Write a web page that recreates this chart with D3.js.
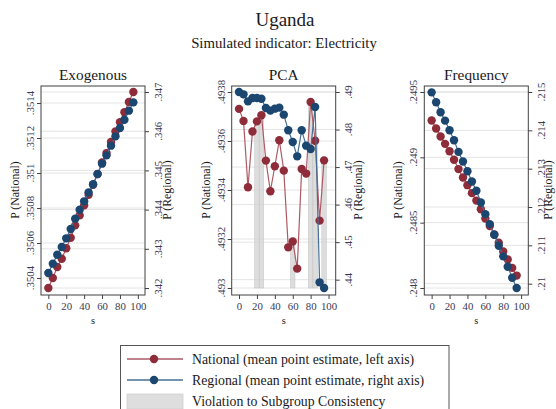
<!DOCTYPE html>
<html>
<head>
<meta charset="utf-8">
<script src="https://cdn.jsdelivr.net/npm/d3@7"></script>
<style>
  html, body { margin: 0; padding: 0; background: #fff; }
  svg { display: block; font-family: "Liberation Serif", "DejaVu Serif", serif; }
</style>
</head>
<body>
<svg id="chart" width="556" height="409"></svg>
<script>
// Simulation grid (share of sample, s)
const sValues = [0, 5, 10, 15, 20, 25, 30, 35, 40, 45, 50, 55, 60, 65, 70, 75, 80, 85, 90, 95];
const xTicks = [0, 20, 40, 60, 80, 100];

const panelTitles = ["Exogenous", "PCA", "Frequency"];

// Mean point estimates, national (left axis) and regional (right axis)
const nationalExogenous = [.350343, .350400, .350463, .350510, .350570, .350630, .350701, .350758, .350815, .350876,
                           .350933, .350994, .351061, .351114, .351177, .351238, .351291, .351347, .351406, .351463];
const regionalExogenous = [.342383, .342621, .342850, .343046, .343267, .343505, .343769, .343998, .344211, .344440,
                           .344645, .344908, .345172, .345384, .345631, .345869, .346082, .346294, .346524, .346736];

const nationalPCA = [.493731, .493682, .493411, .493639, .493680, .493705, .493520, .493395, .493497, .493603,
                     .493479, .493166, .493190, .493079, .493486, .493467, .493759, .493601, .493275, .493521];
const regionalPCA = [.49000, .48938, .48751, .48840, .48840, .48822, .48574, .48503, .48556, .48583,
                     .48396, .47979, .47668, .47286, .47979, .47570, .47481, .48600, .43929, .43778];

const nationalFrequency = [.249282, .249221, .249159, .249103, .249046, .248982, .248910, .248846, .248787, .248726,
                           .248669, .248603, .248531, .248474, .248410, .248346, .248279, .248218, .248154, .248095];
const regionalFrequency = [.214991, .214731, .214470, .214253, .214002, .213741, .213438, .213186, .212934, .212665,
                           .212422, .212118, .211814, .211554, .211276, .210990, .210712, .210443, .210156, .209887];

// Axis ticks
const leftTicksExogenous = [.3504, .3506, .3508, .351, .3512, .3514];
const rightTicksExogenous = [.342, .343, .344, .345, .346, .347];
const leftTicksPCA = [.493, .4932, .4934, .4936, .4938];
const rightTicksPCA = [.44, .45, .46, .47, .48, .49];
const leftTicksFrequency = [.248, .2485, .249, .2495];
const rightTicksFrequency = [.21, .211, .212, .213, .214, .215];

// Values of s at which subgroup consistency is violated (PCA only)
const violationsExogenous = [];
const violationsPCA = [20, 25, 60, 80, 85, 95];
const violationsFrequency = [];

const panels = [
  { title: panelTitles[0], nat: nationalExogenous, reg: regionalExogenous, lt: leftTicksExogenous, rt: rightTicksExogenous, viol: violationsExogenous, left: 41 },
  { title: panelTitles[1], nat: nationalPCA, reg: regionalPCA, lt: leftTicksPCA, rt: rightTicksPCA, viol: violationsPCA, left: 231.7 },
  { title: panelTitles[2], nat: nationalFrequency, reg: regionalFrequency, lt: leftTicksFrequency, rt: rightTicksFrequency, viol: violationsFrequency, left: 424.3 }
];

const RED = "#8e2c3a", RED_LINE = "#ad5a64";
const BLUE = "#1b4670", BLUE_LINE = "#466f95";
const GRID = "#e4e4e4", FRAME = "#404040", TEXT = "#1a1a1a", TICKTXT = "#3a3a55";

const svg = d3.select("#chart");
const width = 556;
const plotW = 104, plotTop = 86, plotBottom = 295;
const yTop = 92, yBottom = 288;

const fmt = v => String(v).replace(/^0/, "");

// Titles
svg.append("text").attr("x", 285).attr("y", 26).attr("text-anchor", "middle")
  .attr("font-size", 19).attr("fill", TEXT).text("Uganda");
svg.append("text").attr("x", 284).attr("y", 48).attr("text-anchor", "middle")
  .attr("font-size", 14.8).attr("fill", TEXT).text("Simulated indicator: Electricity");

panels.forEach(p => {
  const g = svg.append("g");
  const x0 = p.left, x1 = p.left + plotW;
  const x = d3.scaleLinear().domain([-8.2, 108]).range([x0, x1]);
  const yL = d3.scaleLinear().domain(d3.extent(p.nat.concat(p.lt))).range([yBottom, yTop]);
  const yR = d3.scaleLinear().domain(d3.extent(p.reg.concat(p.rt))).range([yBottom, yTop]);

  // panel title
  g.append("text").attr("x", (x0 + x1) / 2).attr("y", 80).attr("text-anchor", "middle")
    .attr("font-size", 15.3).attr("fill", TEXT).text(p.title);

  // gridlines for both axes
  g.selectAll(".gl").data(p.lt).join("line")
    .attr("x1", x0).attr("x2", x1).attr("y1", d => yL(d)).attr("y2", d => yL(d))
    .attr("stroke", GRID).attr("stroke-width", 1);
  g.selectAll(".gr").data(p.rt).join("line")
    .attr("x1", x0).attr("x2", x1).attr("y1", d => yR(d)).attr("y2", d => yR(d))
    .attr("stroke", GRID).attr("stroke-width", 1);

  // violation bars (from the axis floor up to the national estimate)
  const natAt = s => p.nat[sValues.indexOf(s)];
  g.selectAll(".viol").data(p.viol).join("rect")
    .attr("x", d => x(d - 2.5)).attr("width", d => x(d + 2.5) - x(d - 2.5))
    .attr("y", d => yL(natAt(d))).attr("height", d => yL.range()[0] - yL(natAt(d)))
    .attr("fill", "#d2d2d2").attr("fill-opacity", 0.75)
    .attr("stroke", "#c4c4c4").attr("stroke-width", 0.5);

  // frame
  g.append("rect").attr("x", x0).attr("y", plotTop).attr("width", plotW).attr("height", plotBottom - plotTop)
    .attr("fill", "none").attr("stroke", FRAME).attr("stroke-width", 1);

  // national series
  const natPts = sValues.map((s, i) => [s, p.nat[i]]);
  g.append("path").datum(natPts)
    .attr("d", d3.line().x(d => x(d[0])).y(d => yL(d[1])))
    .attr("fill", "none").attr("stroke", RED_LINE).attr("stroke-width", 1.2);
  g.selectAll(".mn").data(natPts).join("circle")
    .attr("cx", d => x(d[0])).attr("cy", d => yL(d[1])).attr("r", 4.2).attr("fill", RED);

  // regional series
  const regPts = sValues.map((s, i) => [s, p.reg[i]]);
  g.append("path").datum(regPts)
    .attr("d", d3.line().x(d => x(d[0])).y(d => yR(d[1])))
    .attr("fill", "none").attr("stroke", BLUE_LINE).attr("stroke-width", 1.2);
  g.selectAll(".mr").data(regPts).join("circle")
    .attr("cx", d => x(d[0])).attr("cy", d => yR(d[1])).attr("r", 4.2).attr("fill", BLUE);

  // left axis
  const axL = g.append("g").attr("transform", `translate(${x0},0)`)
    .call(d3.axisLeft(yL).tickValues(p.lt).tickSize(4).tickFormat(() => ""));
  axL.select(".domain").remove();
  axL.selectAll("line").attr("stroke", FRAME);
  g.selectAll(".tl").data(p.lt).join("text")
    .attr("transform", d => `translate(${x0 - 7},${yL(d)}) rotate(-90)`)
    .attr("text-anchor", "middle").attr("font-size", 10.8).attr("fill", TICKTXT).text(fmt);
  g.append("text").attr("transform", `translate(${x0 - 22},${(yTop + yBottom) / 2}) rotate(-90)`)
    .attr("text-anchor", "middle").attr("font-size", 11.8).attr("fill", TEXT).text("P (National)");

  // right axis
  const axR = g.append("g").attr("transform", `translate(${x1},0)`)
    .call(d3.axisRight(yR).tickValues(p.rt).tickSize(4).tickFormat(() => ""));
  axR.select(".domain").remove();
  axR.selectAll("line").attr("stroke", FRAME);
  g.selectAll(".tr").data(p.rt).join("text")
    .attr("transform", d => `translate(${x1 + 16.5},${yR(d)}) rotate(-90)`)
    .attr("text-anchor", "middle").attr("font-size", 10.8).attr("fill", TICKTXT).text(fmt);
  // keep the outermost title inside the canvas
  const rTitleX = Math.min(x1 + 26.3, width - 4);
  g.append("text").attr("transform", `translate(${rTitleX},${(yTop + yBottom) / 2}) rotate(-90)`)
    .attr("text-anchor", "middle").attr("font-size", 11.8).attr("fill", TEXT).text("P (Regional)");

  // bottom axis
  const axB = g.append("g").attr("transform", `translate(0,${plotBottom})`)
    .call(d3.axisBottom(x).tickValues(xTicks).tickSize(4).tickPadding(3));
  axB.select(".domain").remove();
  axB.selectAll("line").attr("stroke", FRAME);
  axB.selectAll("text").attr("font-family", "Liberation Serif, serif").attr("font-size", 10.8).attr("fill", TICKTXT);
  g.append("text").attr("x", x(50)).attr("y", 324).attr("text-anchor", "middle")
    .attr("font-size", 10.5).attr("fill", TEXT).text("s");
});

// Legend
const lg = svg.append("g");
lg.append("rect").attr("x", 120.5).attr("y", 345.5).attr("width", 328.5).attr("height", 70)
  .attr("fill", "#fff").attr("stroke", "#555").attr("stroke-width", 1);
const legendItems = [
  { label: "National (mean point estimate, left axis)", line: RED_LINE, dot: RED, y: 359 },
  { label: "Regional (mean point estimate, right axis)", line: BLUE_LINE, dot: BLUE, y: 380 },
  { label: "Violation to Subgroup Consistency", y: 401 }
];
legendItems.forEach(it => {
  if (it.line) {
    lg.append("line").attr("x1", 127).attr("x2", 183).attr("y1", it.y).attr("y2", it.y)
      .attr("stroke", it.line).attr("stroke-width", 1.5);
    lg.append("circle").attr("cx", 154).attr("cy", it.y).attr("r", 4.2).attr("fill", it.dot);
  } else {
    lg.append("rect").attr("x", 127).attr("y", it.y - 7).attr("width", 56).attr("height", 15)
      .attr("fill", "#dedede").attr("stroke", "#d0d0d0").attr("stroke-width", 0.8);
  }
  lg.append("text").attr("x", 192).attr("y", it.y + 4.5).attr("font-size", 13.8)
    .attr("fill", TEXT).text(it.label);
});
</script>
</body>
</html>
